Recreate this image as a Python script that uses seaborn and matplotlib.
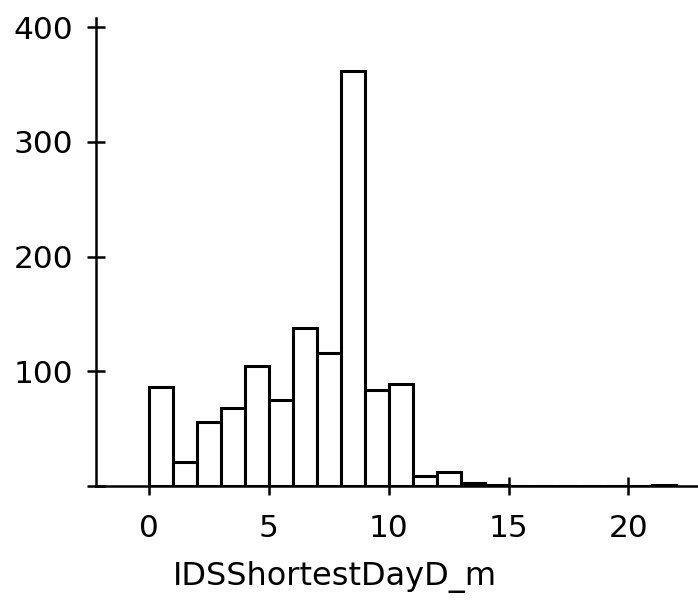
import numpy as np
import pandas as pd
import seaborn as sns
import matplotlib.pyplot as plt

# histogram counts per unit-width bin, starting at 0
bin_left = list(range(0, 22))
counts = [86, 21, 56, 68, 105, 75, 138, 116, 362, 84, 89, 9, 12, 3, 1,
          0, 0, 0, 0, 0, 0, 1]
x_ticks = [0, 5, 10, 15, 20]
y_ticks = [0, 100, 200, 300, 400]
y_labels = ['', '100', '200', '300', '400']

df = pd.DataFrame({'IDSShortestDayD_m': np.array(bin_left) + 0.5,
                   'count': counts})

sns.set_style('white')
plt.rcParams['font.family'] = ['DejaVu Sans']

fig = plt.figure(figsize=(6.98, 6.04), dpi=100)
ax = fig.add_axes([0.1375, 0.1954, 0.8625, 0.775])

sns.histplot(data=df, x='IDSShortestDayD_m', weights='count',
             binwidth=1, binrange=(0, 22), color='white', edgecolor='black',
             linewidth=2.2, alpha=1, ax=ax)

ax.set_xlim(-2.2, 22.9)
ax.set_ylim(0, 408)
ax.set_xticks(x_ticks)
ax.set_yticks(y_ticks)
ax.set_yticklabels(y_labels)
ax.tick_params(bottom=True, left=True, direction='inout', length=13,
               width=1.8, labelsize=22.5, color='black', labelcolor='black')
ax.tick_params(axis='x', pad=14)
ax.tick_params(axis='y', pad=10)
ax.set_ylabel('')
ax.set_xlabel('IDSShortestDayD_m', fontsize=23, color='black')
ax.xaxis.set_label_coords(0.397, -0.16)

for side in ['top', 'right']:
    ax.spines[side].set_visible(False)
for side in ['left', 'bottom']:
    ax.spines[side].set_color('black')
    ax.spines[side].set_linewidth(1.8)

fig.savefig('out.png', dpi=100)
